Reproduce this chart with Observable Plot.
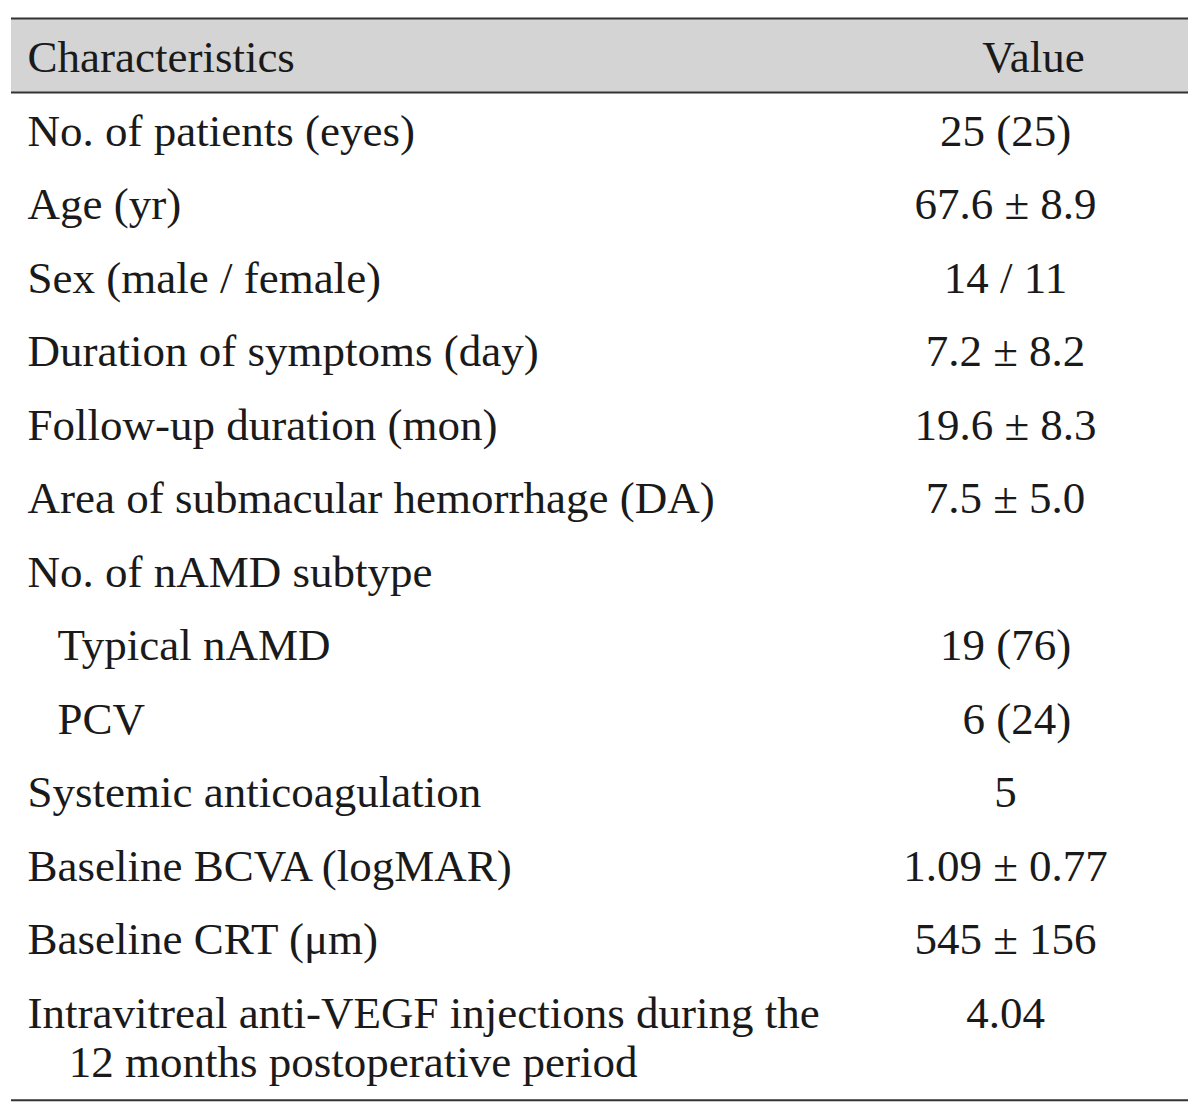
<!DOCTYPE html>
<html>
<head>
<meta charset="utf-8">
<script src="https://cdn.jsdelivr.net/npm/d3@7"></script>
<script src="https://cdn.jsdelivr.net/npm/@observablehq/plot@0.6"></script>
<style>
  html, body { margin: 0; padding: 0; background: #fff; }
</style>
</head>
<body>
<div id="chart"></div>
<script>
// Table content
const headers = ["Characteristics", "Value"];
const characteristics = [
  "No. of patients (eyes)",
  "Age (yr)",
  "Sex (male / female)",
  "Duration of symptoms (day)",
  "Follow-up duration (mon)",
  "Area of submacular hemorrhage (DA)",
  "No. of nAMD subtype",
  "\u2004\u2004Typical nAMD",
  "\u2004\u2004PCV",
  "Systemic anticoagulation",
  "Baseline BCVA (logMAR)",
  "Baseline CRT (\u03bcm)",
  "Intravitreal anti-VEGF injections during the",
  "\u2004\u2004\u200512 months postoperative period"
];
const values = [
  "25 (25)",
  "67.6 \u00b1 8.9",
  "14 / 11",
  "7.2 \u00b1 8.2",
  "19.6 \u00b1 8.3",
  "7.5 \u00b1 5.0",
  "",
  "19 (76)",
  "\u20076 (24)",
  "5",
  "1.09 \u00b1 0.77",
  "545 \u00b1 156",
  "4.04",
  ""
];
// row positions (row units): last entry is the wrapped second line
const rowIndex = [1, 2, 3, 4, 5, 6, 7, 8, 9, 10, 11, 12, 13, 13.67];

const rows = characteristics.map((c, i) => ({label: c, value: values[i], row: rowIndex[i]}));

const W = 1200, H = 1113;
const font = "'Liberation Serif', 'Times New Roman', serif";
const fs = 45;

const plot = Plot.plot({
  width: W,
  height: H,
  margin: 0,
  style: {background: "#fff", fontFamily: font},
  x: {domain: [0, W], range: [0, W], axis: null},
  y: {domain: [-57.5 / 73.5, (H - 57.5) / 73.5], range: [0, H], axis: null},
  marks: [
    // header band
    Plot.rectY([{x1: 11, x2: 1188, y1: -0.537, y2: 0.47}], {x1: "x1", x2: "x2", y1: "y1", y2: "y2", fill: "#d4d4d4"}),
    // rules
    Plot.ruleY([-0.537, 0.47, 14.18], {x1: 11, x2: 1188, stroke: "#333", strokeWidth: 2}),
    // header text
    Plot.text([headers[0]], {x: 27, y: 0, text: d => d, textAnchor: "start", fontSize: fs, fill: "#1a1a1a"}),
    Plot.text([headers[1]], {x: 1033, y: 0, text: d => d, textAnchor: "middle", fontSize: fs, fill: "#1a1a1a"}),
    // body
    Plot.text(rows, {x: 27, y: "row", text: "label", textAnchor: "start", fontSize: fs, fill: "#1a1a1a"}),
    Plot.text(rows.filter(d => d.value), {x: 1005, y: "row", text: "value", textAnchor: "middle", fontSize: fs, fill: "#1a1a1a"})
  ]
});
document.getElementById("chart").appendChild(plot);
</script>
</body>
</html>
